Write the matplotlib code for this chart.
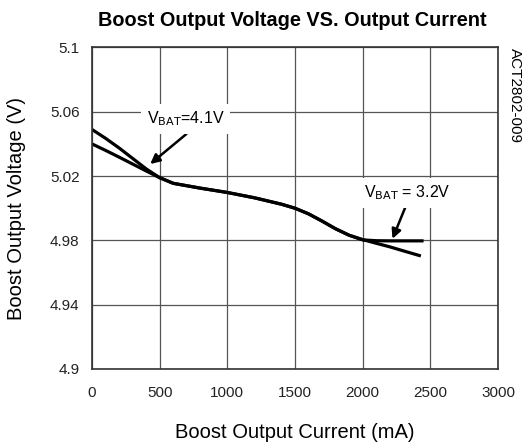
import matplotlib
matplotlib.use("Agg")
import matplotlib.pyplot as plt

plt.rcParams['font.family'] = ['Liberation Sans', 'DejaVu Sans']

# Load current (mA) and boost output voltage (V) for two battery voltages
current_41 = [0, 100, 200, 300, 400, 500, 600, 800, 1000, 1200, 1400, 1500,
              1600, 1700, 1800, 1900, 2000, 2100, 2200, 2300, 2430]
vout_41 = [5.049, 5.0435, 5.0375, 5.031, 5.0245, 5.0190, 5.0155, 5.0125, 5.0098,
           5.0065, 5.0025, 5.0000, 4.9965, 4.9920, 4.9872, 4.9832, 4.9805,
           4.9782, 4.9760, 4.9735, 4.9703]

current_32 = [0, 100, 200, 300, 400, 500, 600, 800, 1000, 1200, 1400, 1500,
              1600, 1700, 1800, 1900, 2000, 2100, 2200, 2300, 2450]
vout_32 = [5.040, 5.0360, 5.0318, 5.0275, 5.0232, 5.0190, 5.0155, 5.0125, 5.0098,
           5.0065, 5.0025, 5.0000, 4.9965, 4.9920, 4.9872, 4.9832, 4.9803,
           4.9798, 4.9797, 4.9797, 4.9797]

x_ticks = [0, 500, 1000, 1500, 2000, 2500, 3000]
y_ticks = [4.9, 4.94, 4.98, 5.02, 5.06, 5.1]
y_tick_labels = ['4.9', '4.94', '4.98', '5.02', '5.06', '5.1']

fig = plt.figure(figsize=(5.27, 4.45), dpi=100)
ax = fig.add_axes([0.1746, 0.1708, 0.7704, 0.7225])

ax.plot(current_41, vout_41, color='black', lw=2.3, solid_capstyle='butt')
ax.plot(current_32, vout_32, color='black', lw=2.3, solid_capstyle='butt')

ax.set_xlim(0, 3000)
ax.set_ylim(4.9, 5.1)
ax.set_xticks(x_ticks)
ax.set_yticks(y_ticks)
ax.set_yticklabels(y_tick_labels)
ax.tick_params(axis='both', length=0, labelsize=11, colors='#222222', pad=9)
ax.tick_params(axis='x', pad=12)
ax.grid(True, color='#555555', lw=0.9)
ax.set_axisbelow(True)
for s in ax.spines.values():
    s.set_color('#333333')
    s.set_linewidth(1.2)

ax.set_xlabel('Boost Output Current (mA)', fontsize=14.5, labelpad=17)
ax.set_ylabel('Boost Output Voltage (V)', fontsize=14.5, labelpad=17)
fig.text(0.555, 0.955, 'Boost Output Voltage VS. Output Current',
         ha='center', va='center', fontsize=14.3, fontweight='bold')
fig.text(0.977, 0.785, 'ACT2802-009', rotation=-90, ha='center', va='center',
         fontsize=11)

box = dict(boxstyle='square,pad=0.35', fc='white', ec='none')
ax.annotate(r'V$_{\mathrm{BAT}}$=4.1V', xy=(430, 5.0275), xytext=(690, 5.0555),
            ha='center', va='center', fontsize=11.5, bbox=box,
            arrowprops=dict(arrowstyle='-|>', color='black', lw=1.8,
                            mutation_scale=14, shrinkA=0, shrinkB=0,
                            relpos=(0.6, 0.0)))
ax.annotate(r'V$_{\mathrm{BAT}}$ = 3.2V', xy=(2220, 4.981), xytext=(2330, 5.0095),
            ha='center', va='center', fontsize=11.5, bbox=box,
            arrowprops=dict(arrowstyle='-|>', color='black', lw=1.8,
                            mutation_scale=14, shrinkA=0, shrinkB=0,
                            relpos=(0.5, 0.0)))

fig.savefig('out.png', dpi=100)
